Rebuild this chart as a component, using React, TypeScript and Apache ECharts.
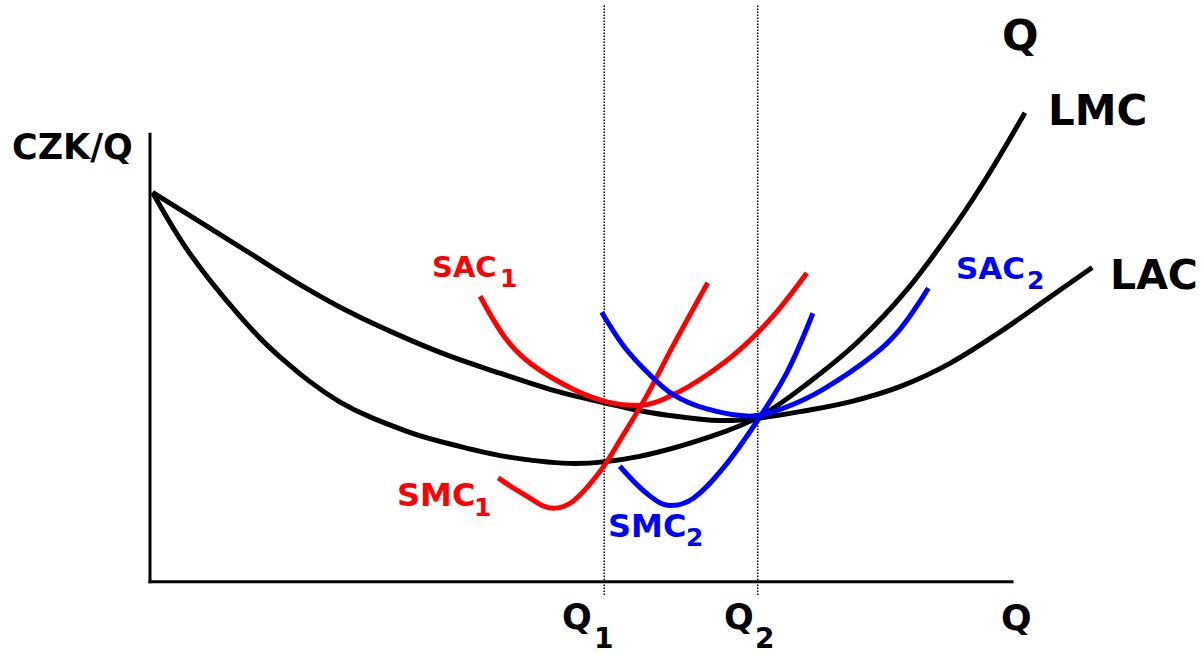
import React, { useEffect, useRef } from "react";
import * as echarts from "echarts";

// Output Q and cost CZK/Q in schematic units
const LAC: [number, number][] = [
  [0.3, 43.5], [5.8, 40.2], [11.6, 36.7], [17.4, 33.2], [23.2, 30.1], [29.0, 27.5],
  [34.8, 25.2], [40.6, 23.3], [46.4, 21.5], [52.2, 20.1], [58.0, 18.9], [62.6, 18.3],
  [66.7, 18.0], [70.8, 18.3], [75.4, 19.0], [81.2, 20.1], [87.0, 21.8], [92.8, 24.4],
  [98.6, 27.9], [104.4, 31.8], [109.3, 35.1],
];
const LMC: [number, number][] = [
  [0.3, 43.5], [4.6, 36.7], [10.4, 29.7], [15.1, 25.1], [22.0, 20.1], [29.8, 16.8],
  [36.0, 15.1], [41.8, 13.9], [49.3, 13.2], [56.8, 14.0], [65.0, 16.2], [70.8, 18.5],
  [76.2, 22.1], [82.0, 26.7], [87.8, 32.6], [93.6, 40.1], [97.4, 45.7], [101.5, 52.4],
];
const SAC1: [number, number][] = [
  [38.3, 31.9], [41.4, 27.0], [44.4, 24.2], [49.1, 21.5], [53.0, 20.1], [56.8, 19.7],
  [60.7, 20.9], [64.6, 23.1], [68.4, 25.9], [72.3, 29.7], [76.2, 34.5],
];
const SMC1: [number, number][] = [
  [40.4, 11.6], [43.3, 9.8], [46.8, 8.2], [49.1, 9.0], [52.2, 12.3], [54.9, 16.4],
  [57.7, 20.9], [60.7, 26.4], [64.7, 33.4],
];
const SAC2: [number, number][] = [
  [52.4, 30.1], [54.9, 26.4], [57.7, 23.4], [60.7, 20.9], [64.6, 19.3], [69.6, 18.5],
  [73.5, 19.4], [78.1, 21.5], [83.9, 25.3], [87.0, 28.2], [90.3, 32.8],
];
const SMC2: [number, number][] = [
  [54.5, 12.9], [57.7, 9.8], [60.3, 8.5], [63.0, 9.3], [66.5, 12.7], [70.4, 17.9],
  [73.9, 23.4], [76.9, 30.0],
];
const Q_MARKS: number[] = [52.7, 70.5];
const GUIDE_RANGE: [number, number] = [-1.5, 64.4];
const X_AXIS_LINE: [number, number][] = [[0, 0], [100, 0]];
const Y_AXIS_LINE: [number, number][] = [[0, 0], [0, 50]];

const BLACK = "#000000";
const RED = "#ff0000";
const BLUE = "#0000ff";
const FONT = "DejaVu Sans";

function curve(name: string, data: [number, number][], color: string, z: number) {
  return {
    name,
    type: "line",
    data,
    smooth: 0.35,
    symbol: "none",
    clip: false,
    z,
    lineStyle: { color, width: 5 },
  };
}

function straight(name: string, data: [number, number][], width: number, type: any, cap: string, z: number) {
  return {
    name,
    type: "line",
    data,
    symbol: "none",
    clip: false,
    z,
    lineStyle: { color: BLACK, width, type, cap },
  };
}

function txt(text: string, x: number, y: number, size: number, color: string) {
  return {
    type: "text",
    x,
    y,
    style: {
      text,
      fill: color,
      font: `bold ${size}px "${FONT}"`,
      textVerticalAlign: "middle",
      verticalAlign: "middle",
      align: "left",
    },
  };
}

export default function App() {
  const ref = useRef<HTMLDivElement>(null);
  useEffect(() => {
    if (!ref.current) return;
    const chart = echarts.init(ref.current, null, { renderer: "svg" });
    const guides = Q_MARKS.map((q, i) =>
      straight("guide" + i, [[q, GUIDE_RANGE[0]], [q, GUIDE_RANGE[1]]], 1.5, [1.5, 1.5], "butt", 1)
    );
    const hiddenAxis = {
      type: "value",
      axisLine: { show: false },
      axisTick: { show: false },
      axisLabel: { show: false },
      splitLine: { show: false },
    };
    chart.setOption({
      animation: false,
      backgroundColor: "#ffffff",
      grid: { left: 150, top: -6.1, width: 965.44, height: 605.68, containLabel: false },
      xAxis: { ...hiddenAxis, min: 0, max: 112 },
      yAxis: { ...hiddenAxis, min: -2, max: 65 },
      series: [
        ...guides,
        straight("xAxisLine", X_AXIS_LINE, 3, "solid", "square", 2),
        straight("yAxisLine", Y_AXIS_LINE, 3, "solid", "square", 2),
        curve("LAC", LAC, BLACK, 2),
        curve("LMC", LMC, BLACK, 2),
        curve("SAC1", SAC1, RED, 3),
        curve("SMC1", SMC1, RED, 3),
        curve("SAC2", SAC2, BLUE, 4),
        curve("SMC2", SMC2, BLUE, 4),
      ],
      graphic: [
        txt("CZK/Q", 12, 147, 35, BLACK),
        txt("Q", 1002, 35, 43, BLACK),
        txt("LMC", 1048, 110, 42, BLACK),
        txt("LAC", 1110, 275, 41, BLACK),
        txt("SAC", 432, 267, 29, RED),
        txt("1", 500, 278, 25, RED),
        txt("SAC", 956, 268, 31, BLUE),
        txt("2", 1027, 280, 25, BLUE),
        txt("SMC", 397, 495, 32, RED),
        txt("1", 474, 507, 25, RED),
        txt("SMC", 608, 526, 32, BLUE),
        txt("2", 686, 537, 25, BLUE),
        txt("Q", 562, 617, 35, BLACK),
        txt("1", 594, 638, 28, BLACK),
        txt("Q", 724, 617, 35, BLACK),
        txt("2", 755, 638, 28, BLACK),
        txt("Q", 1001, 617, 36, BLACK),
      ],
    });
    return () => chart.dispose();
  }, []);
  return (
    <div
      ref={ref}
      style={{ position: "fixed", left: 0, top: 0, width: 1204, height: 653, background: "#ffffff" }}
    />
  );
}
